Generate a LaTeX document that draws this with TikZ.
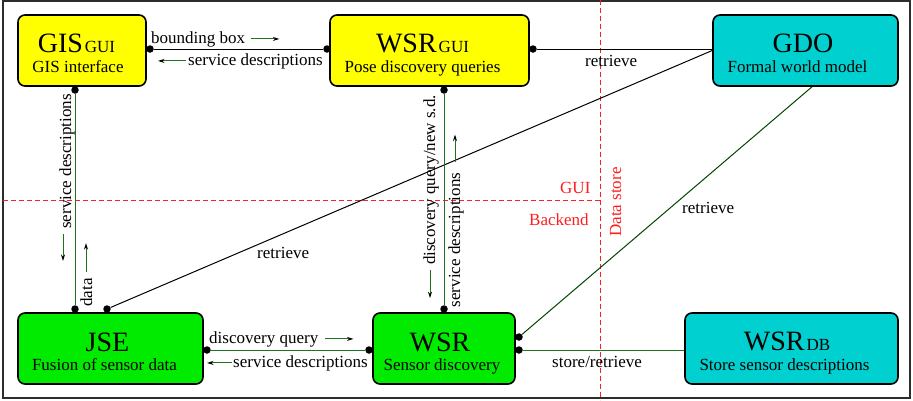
\documentclass[tikz,border=0pt]{standalone}
\usepackage{fontspec}
\setmainfont{Liberation Serif}
\usetikzlibrary{arrows.meta}
\definecolor{boxyellow}{RGB}{255,255,0}
\definecolor{boxgreen}{RGB}{0,235,0}
\definecolor{boxcyan}{RGB}{0,208,208}
\definecolor{wire}{RGB}{30,115,30}
\definecolor{darkwire}{RGB}{0,70,0}
\definecolor{zone}{RGB}{255,30,30}
\definecolor{framegray}{RGB}{45,45,45}
\newcommand{\smallpart}[1]{\hspace{2pt}{\fontsize{17}{20}\selectfont #1}}
\begin{document}
\begin{tikzpicture}[x=1pt,y=-1pt,
  box/.style={draw=black, line width=1.6pt, rounded corners=7pt, inner sep=0pt, minimum height=71pt},
  dot/.style={circle, fill=black, inner sep=0pt, minimum size=7.5pt},
  title/.style={anchor=base, inner sep=0pt, text depth=0pt, font=\fontsize{28}{30}\selectfont},
  sub/.style={anchor=base, inner sep=0pt, font=\fontsize{17}{20}\selectfont},
  lbl/.style={inner sep=0pt, font=\fontsize{17}{20}\selectfont},
  vlbl/.style={lbl, rotate=90, anchor=base},
  link/.style={line width=1pt},
  flow/.style={draw=wire, line width=1pt, -{Stealth[black,length=6.5pt,width=4pt]}},
  zoneline/.style={draw=zone, dash pattern=on 5pt off 3pt, line width=0.9pt},
  zonelbl/.style={text=zone, inner sep=0pt, font=\fontsize{17}{20}\selectfont}]

\useasboundingbox (0,0) rectangle (913,400);

% outer frame
\draw[framegray, line width=2pt] (3,1) rectangle (910,398);

% layer boundaries
\draw[zoneline] (3,200) -- (600,200);
\draw[zoneline] (600,0) -- (600,400);
\node[zonelbl, anchor=base west] (gui-lbl) at (560,193) {GUI};
\node[zonelbl, anchor=base west] (backend-lbl) at (529,225) {Backend};
\node[zonelbl, rotate=90, anchor=base] (store-lbl) at (621,202) {Data store};

% components
\node[box, fill=boxyellow, minimum width=128pt] (gis) at (82,50.5) {};
\node[box, fill=boxyellow, minimum width=199pt] (wsrgui) at (429.5,50.5) {};
\node[box, fill=boxcyan, minimum width=185pt] (gdo) at (805.5,50.5) {};
\node[box, fill=boxgreen, minimum width=185pt] (jse) at (110.5,348.5) {};
\node[box, fill=boxgreen, minimum width=142pt] (wsr) at (444,348.5) {};
\node[box, fill=boxcyan, minimum width=213pt] (wsrdb) at (791.5,348.5) {};

\node[title] (gis-t) at (76.5,52) {GIS\smallpart{GUI}};
\node[sub] (gis-s) at (78,72) {GIS interface};
\node[title] (wsrgui-t) at (422.5,52) {WSR\smallpart{GUI}};
\node[sub] (wsrgui-s) at (422.5,72) {Pose discovery queries};
\node[title] (gdo-t) at (803,52) {GDO};
\node[sub] (gdo-s) at (797.5,72) {Formal world model};
\node[title] (jse-t) at (107.5,351) {JSE};
\node[sub] (jse-s) at (104.5,370) {Fusion of sensor data};
\node[title] (wsr-t) at (440,351) {WSR};
\node[sub] (wsr-s) at (442,370) {Sensor discovery};
\node[title] (wsrdb-t) at (787,350) {WSR\smallpart{DB}};
\node[sub] (wsrdb-s) at (784.5,370) {Store sensor descriptions};

% connection points
\node[dot] (gis-e) at (150,49) {};
\node[dot] (gis-s-pt) at (75,90) {};
\node[dot] (wsrgui-w) at (327,49) {};
\node[dot] (wsrgui-e) at (533,49) {};
\node[dot] (wsrgui-s-pt) at (444,90) {};
\node[dot] (jse-n1) at (75,309) {};
\node[dot] (jse-n2) at (107,309) {};
\node[dot] (jse-e) at (207,350) {};
\node[dot] (wsr-w) at (369,350) {};
\node[dot] (wsr-n) at (444,309) {};
\node[dot] (wsr-e1) at (519,337) {};
\node[dot] (wsr-e2) at (519,350) {};

% connectors
\draw[link] (gis-e) -- (wsrgui-w);
\draw[link] (wsrgui-e) -- (wsrgui-e -| gdo.west);
\draw[link] (gdo.west) -- (jse-n2);
\draw[link, wire] (gis-s-pt) -- (jse-n1);
\draw[link, wire] (wsrgui-s-pt) -- (wsr-n);
\draw[link, wire] (jse-e) -- (wsr-w);
\draw[link, darkwire] (wsr-e1) -- ([xshift=6.5pt]gdo.south);
\draw[link, wire] (wsr-e2) -- (wsr-e2 -| wsrdb.west);

% connector labels
\node[lbl, anchor=base west] (bb) at (151,43) {bounding box};
\draw[flow] ([xshift=6pt]bb.east) -- ++(28,0);
\node[lbl, anchor=base west] (sd-top) at (188,65) {service descriptions};
\draw[flow] ([xshift=-2pt]sd-top.west) -- ++(-28,0);
\node[lbl, anchor=base west] (rt-top) at (585,66) {retrieve};
\node[lbl, anchor=base west] (rt-mid) at (257,258) {retrieve};
\node[lbl, anchor=base west] (rt-right) at (682,213) {retrieve};
\node[lbl, anchor=base west] (st) at (552,367) {store/retrieve};
\node[lbl, anchor=base west] (dq) at (209,343) {discovery query};
\draw[flow] ([xshift=7pt]dq.east) -- ++(28,0);
\node[lbl, anchor=base west] (sd-bot) at (233,367) {service descriptions};
\draw[flow] ([xshift=-1pt]sd-bot.west) -- ++(-25,0);

\node[vlbl] (sd-left) at (71,161.5) {service descriptions};
\draw[flow] (sd-left.base west) ++(-8,5) -- ++(0,27);
\node[vlbl] (data) at (92,292.5) {data};
\draw[flow] (data.base east) ++(-6,-6) -- ++(0,-29);
\node[vlbl] (dqv) at (435,180) {discovery query/new s.d.};
\draw[flow] (dqv.base west) ++(-5,5) -- ++(0,28);
\node[vlbl] (sd-right) at (460,240) {service descriptions};
\draw[flow] (sd-right.base east) ++(-5,-11) -- ++(0,-27);
\end{tikzpicture}
\end{document}
